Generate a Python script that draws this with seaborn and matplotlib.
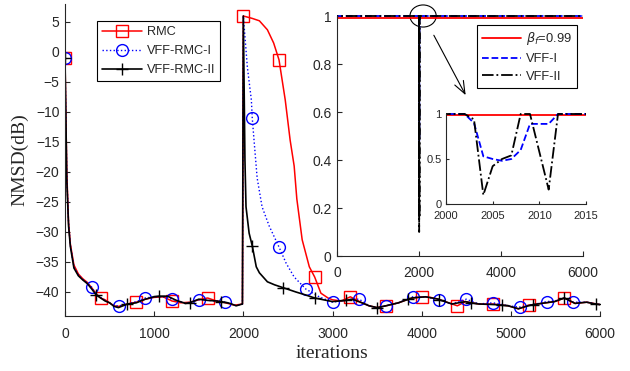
import matplotlib.pyplot as plt
import numpy as np
import seaborn as sns
from matplotlib.patches import Ellipse, Rectangle

# NMSD curves, (iteration, dB)
rmc_pts = [(0, -1), (20, -20), (40, -28.5), (60, -32), (100, -35.5), (150, -37), (200, -37.8),
           (250, -38.4), (300, -39.3), (350, -40.3), (400, -41), (450, -41.3), (500, -41.8),
           (550, -42.3), (600, -42.4), (650, -42.2), (700, -42), (800, -41.7), (900, -41.2),
           (1000, -40.9), (1100, -40.8), (1200, -41.5), (1300, -41.8), (1400, -41.7),
           (1500, -41.3), (1600, -41), (1700, -41.5), (1800, -41.8), (1900, -42.2), (1990, -42),
           (2000, 6), (2100, 5.6), (2180, 5.2), (2270, 3.7), (2340, 1.5), (2400, -1.3),
           (2470, -8), (2525, -14.7), (2570, -19), (2600, -24.5), (2660, -31.3), (2740, -35.8),
           (2800, -37.5), (2870, -40.2), (2950, -41), (3000, -41.3), (3100, -41.5), (3200, -40.8),
           (3330, -41.8), (3410, -42.3), (3500, -42.6), (3600, -42.3), (3740, -41.8), (3890, -41),
           (4000, -40.8), (4100, -40.9), (4190, -41.2), (4340, -42), (4400, -42.3), (4490, -41.6),
           (4640, -42), (4800, -42), (4970, -42.3), (5085, -42.8), (5200, -42.2), (5345, -41.9),
           (5490, -41.6), (5600, -41), (5720, -41.9), (5850, -41.7), (6000, -42.1)]

vff1_rmc_pts = [(0, -1), (20, -20.5), (40, -28.5), (60, -32.2), (100, -35.8), (150, -37.2),
                (200, -37.9), (250, -38.5), (300, -39.2), (350, -40.4), (450, -41.4), (500, -41.8),
                (550, -42.3), (600, -42.3), (650, -42.2), (700, -42), (800, -41.6), (900, -41),
                (1000, -40.8), (1100, -40.8), (1200, -41.2), (1250, -41.4), (1350, -41.9),
                (1500, -41.3), (1600, -41.4), (1700, -41.5), (1800, -41.7), (1850, -41.9),
                (1920, -42.3), (1990, -42), (2000, 6), (2045, -2.5), (2090, -8), (2100, -11),
                (2120, -14.7), (2155, -21), (2210, -25.8), (2290, -29), (2400, -32.5),
                (2480, -35.2), (2570, -37.5), (2700, -39.5), (2850, -40.8), (3000, -41.7),
                (3100, -41.5), (3220, -41.2), (3300, -41.2), (3410, -42.3), (3500, -42.6),
                (3600, -42.3), (3740, -41.8), (3900, -40.8), (4045, -40.8), (4200, -41.3),
                (4340, -42), (4500, -41.2), (4640, -42), (4800, -41.8), (4970, -42.3),
                (5100, -42.5), (5250, -42.1), (5400, -41.6), (5490, -41.5), (5600, -41),
                (5700, -41.7), (5850, -41.7), (6000, -42.1)]

vff2_rmc_pts = [(0, -1), (20, -21.3), (40, -29), (60, -32.4), (100, -36), (150, -37.3),
                (200, -38), (250, -38.6), (300, -39.5), (350, -40.5), (400, -41), (450, -41.5),
                (500, -41.8), (550, -42.4), (600, -42.6), (650, -42.3), (700, -42), (800, -41.8),
                (900, -41.2), (1000, -40.8), (1050, -40.7), (1100, -40.7), (1150, -40.7),
                (1250, -41.4), (1350, -41.9), (1400, -41.8), (1500, -41.2), (1600, -41.4),
                (1700, -41.5), (1750, -41.6), (1850, -41.9), (1920, -42.3), (1990, -42),
                (2000, 6), (2018, -18), (2030, -25.8), (2065, -30.2), (2100, -32.3), (2145, -35.8),
                (2180, -36.8), (2270, -38.3), (2350, -38.8), (2450, -39.3), (2590, -40),
                (2700, -40.5), (2800, -41), (2900, -41.3), (3000, -41.6), (3150, -41.4),
                (3220, -41.2), (3330, -41.8), (3410, -42.3), (3500, -42.6), (3600, -42.3),
                (3740, -41.8), (3850, -41.2), (3890, -41), (4045, -40.8), (4190, -41.2),
                (4200, -41.3), (4340, -42), (4490, -41.6), (4550, -41.8), (4640, -42),
                (4820, -42.1), (4900, -42.2), (4970, -42.3), (5085, -42.8), (5195, -42.3),
                (5250, -42.1), (5345, -41.9), (5490, -41.6), (5600, -41), (5720, -41.9),
                (5850, -41.7), (5950, -42), (6000, -42.1)]

# forgetting factor curves (iteration, value)
beta_pts = [(0, 0.99), (6000, 0.99)]
vff1_pts = [(0, 0), (1, 1), (2000, 1), (2001, 1), (2002, 1), (2003, 0.9), (2004, 0.53),
            (2005, 0.5), (2006, 0.48), (2007, 0.5), (2008, 0.6), (2009, 0.89), (2010, 0.89),
            (2011, 0.89), (2012, 1), (2015, 1), (6000, 1)]
vff2_pts = [(0, 0), (1, 1), (2000, 1), (2001, 1), (2002, 1), (2003, 0.94), (2004, 0.1),
            (2005, 0.42), (2006, 0.5), (2007, 0.54), (2008, 1), (2009, 1), (2010, 0.58),
            (2011, 0.16), (2012, 1), (2015, 1), (6000, 1)]

main_xticks = [0, 1000, 2000, 3000, 4000, 5000, 6000]
main_yticks = [5, 0, -5, -10, -15, -20, -25, -30, -35, -40]
ins_xticks = [0, 2000, 4000, 6000]
ins_yticks = [0, 0.2, 0.4, 0.6, 0.8, 1]
zoom_xticks = [2000, 2005, 2010, 2015]
zoom_yticks = [0, 0.5, 1]

sns.set_style("ticks")
plt.rcParams["font.family"] = ["Liberation Sans", "DejaVu Sans"]
plt.rcParams["xtick.direction"] = "in"
plt.rcParams["ytick.direction"] = "in"
plt.rcParams["axes.edgecolor"] = "#262626"
plt.rcParams["xtick.color"] = "#262626"
plt.rcParams["ytick.color"] = "#262626"

fig = plt.figure(figsize=(6.3, 3.71), dpi=100)
W, H = 630, 371


def px_axes(x0, y0, x1, y1):
    return fig.add_axes([x0 / W, 1 - y1 / H, (x1 - x0) / W, (y1 - y0) / H])


def draw(ax, pts, step=None, **kws):
    x, y = map(np.array, zip(*pts))
    if step is not None:
        kws["markevery"] = list((x % step == 0) & (x < 6000))
    sns.lineplot(x=x, y=y, ax=ax, estimator=None, sort=False, legend=False, **kws)


def style(ax, fs, xpad=4):
    sns.despine(ax=ax)
    for s in ["left", "bottom"]:
        ax.spines[s].set_linewidth(0.8)
    ax.tick_params(labelsize=fs, length=3.5, width=0.8, pad=4)
    ax.tick_params(axis="x", pad=xpad)
    ax.set_xlabel("")
    ax.set_ylabel("")


def loose_clip(ax):
    # clip only left/right so the lines sitting on y=1 are not cut in half
    box = Rectangle((0, -0.05), 1, 1.1, transform=ax.transAxes, visible=False)
    ax.add_patch(box)
    for ln in ax.lines:
        ln.set_clip_path(box)


# main axes
ax = px_axes(65, 4, 600, 316)
mk = dict(markerfacecolor="none", markersize=8.5, markeredgewidth=1)
draw(ax, rmc_pts, 400, color="#ff0000", lw=1.1, marker="s", markeredgecolor="#ff0000",
     label="RMC", **mk)
draw(ax, vff1_rmc_pts, 300, color="#0000ff", lw=1.0, linestyle=":", marker="o",
     markeredgecolor="#0000ff", label="VFF-RMC-I", **mk)
draw(ax, vff2_rmc_pts, 350, color="black", lw=1.2, marker="+", markeredgecolor="black",
     label="VFF-RMC-II", **mk)
ax.set_xlim(0, 6000)
ax.set_ylim(-44, 8)
style(ax, 10, xpad=8)
ax.set_xticks(main_xticks)
ax.set_yticks(main_yticks)
ax.set_xlabel("iterations", family="Liberation Serif", fontsize=14, labelpad=3)
ax.set_ylabel("NMSD(dB)", family="Liberation Serif", fontsize=14, labelpad=5)
ax.legend(loc="upper left", bbox_to_anchor=(97 / W, 1 - 21 / H), bbox_transform=fig.transFigure,
          borderaxespad=0, fancybox=False, edgecolor="black", framealpha=1, fontsize=9.2,
          handlelength=3.1, handletextpad=0.4, borderpad=0.4, labelspacing=0.55)
ax.get_legend().get_frame().set_linewidth(0.8)

# forgetting factor inset
ax1 = px_axes(337, 16, 583, 256)
draw(ax1, beta_pts, color="#ff0000", lw=1.3, label="$\\beta_f$=0.99")
draw(ax1, vff1_pts, color="#0000ff", lw=1.3, linestyle="--", label="VFF-I")
draw(ax1, vff2_pts, color="black", lw=1.3, linestyle="-.", label="VFF-II")
loose_clip(ax1)
ax1.set_xlim(0, 6000)
ax1.set_ylim(0, 1)
style(ax1, 10, xpad=7)
ax1.set_xticks(ins_xticks)
ax1.set_yticks(ins_yticks)
ax1.set_yticklabels(["0", "0.2", "0.4", "0.6", "0.8", "1"])
ax1.legend(loc="upper left", bbox_to_anchor=(477 / W, 1 - 25 / H), bbox_transform=fig.transFigure,
           borderaxespad=0, fancybox=False, edgecolor="black", framealpha=1, fontsize=9.3,
           handlelength=3.0, handletextpad=0.4, borderpad=0.4, labelspacing=0.45)
ax1.get_legend().get_frame().set_linewidth(0.8)
ax1.add_patch(Ellipse((2100, 1.0), 640, 0.092, fill=False, lw=0.8, color="black", clip_on=False))
ax1.annotate("", xy=(3170, 0.66), xytext=(2330, 0.93),
             arrowprops=dict(arrowstyle="->,head_length=0.9,head_width=0.35", lw=0.8, color="black"))

# zoomed inset
ax2 = px_axes(446, 114, 586, 204)
draw(ax2, beta_pts, color="#ff0000", lw=1.3)
draw(ax2, vff1_pts, color="#0000ff", lw=1.3, linestyle="--")
draw(ax2, vff2_pts, color="black", lw=1.3, linestyle="-.")
loose_clip(ax2)
ax2.set_xlim(2000, 2015)
ax2.set_ylim(0, 1)
style(ax2, 8, xpad=5)
ax2.tick_params(length=2.5)
ax2.tick_params(axis="y", pad=3)
ax2.set_xticks(zoom_xticks)
ax2.set_yticks(zoom_yticks)
ax2.set_yticklabels(["0", "0.5", "1"])

fig.savefig("out.png", dpi=100)
